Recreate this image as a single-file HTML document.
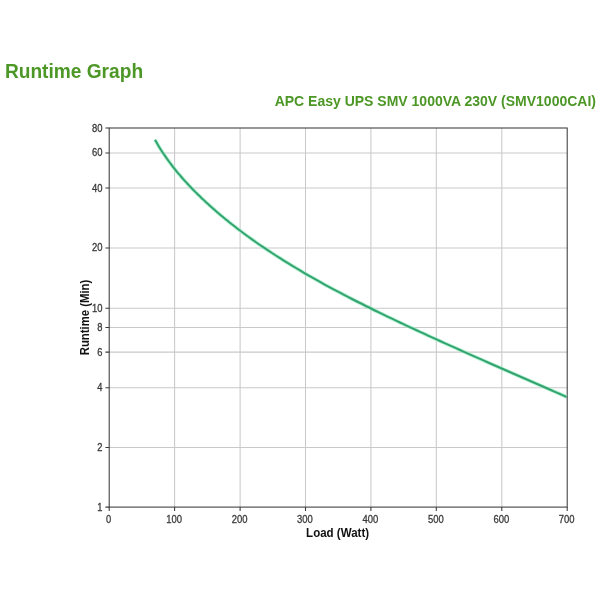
<!DOCTYPE html>
<html><head><meta charset="utf-8">
<style>
html,body{margin:0;padding:0;background:#fff;}
body{width:600px;height:600px;overflow:hidden;position:relative;font-family:"Liberation Sans",sans-serif;}
svg{position:absolute;left:0;top:0;filter:blur(0.5px);}
text{font-family:"Liberation Sans",sans-serif;}
.t{font-size:11px;fill:#383838;stroke:#383838;stroke-width:0.3;}
.g{stroke:#c9c9c9;stroke-width:1.05;fill:none;}
.a{stroke:#3a3a3a;stroke-width:1.05;fill:none;}
</style></head><body>
<svg width="600" height="600" viewBox="0 0 600 600">
<text id="title" x="4.9" y="77.9" font-size="19.6" font-weight="bold" fill="#4c9726" textLength="138.2" lengthAdjust="spacingAndGlyphs">Runtime Graph</text>
<text id="sub" x="596" y="105.8" font-size="14" font-weight="bold" fill="#4c9726" text-anchor="end">APC Easy UPS SMV 1000VA 230V (SMV1000CAI)</text>
<g class="g">
<line x1="174.6" y1="128.0" x2="174.6" y2="507.05"/>
<line x1="240.1" y1="128.0" x2="240.1" y2="507.05"/>
<line x1="305.5" y1="128.0" x2="305.5" y2="507.05"/>
<line x1="370.9" y1="128.0" x2="370.9" y2="507.05"/>
<line x1="436.3" y1="128.0" x2="436.3" y2="507.05"/>
<line x1="501.8" y1="128.0" x2="501.8" y2="507.05"/>
<line x1="109.2" y1="152.9" x2="567.2" y2="152.9"/>
<line x1="109.2" y1="188.0" x2="567.2" y2="188.0"/>
<line x1="109.2" y1="247.9" x2="567.2" y2="247.9"/>
<line x1="109.2" y1="308.2" x2="567.2" y2="308.2"/>
<line x1="109.2" y1="327.5" x2="567.2" y2="327.5"/>
<line x1="109.2" y1="352.1" x2="567.2" y2="352.1"/>
<line x1="109.2" y1="387.8" x2="567.2" y2="387.8"/>
<line x1="109.2" y1="447.4" x2="567.2" y2="447.4"/>
</g>
<rect class="a" x="109.2" y="128.0" width="458.0" height="379.1"/>
<path class="a" d="M105.4 128.0H109.2M105.4 152.9H109.2M105.4 188.0H109.2M105.4 247.9H109.2M105.4 308.2H109.2M105.4 327.5H109.2M105.4 352.1H109.2M105.4 387.8H109.2M105.4 447.4H109.2M105.4 507.1H109.2M109.2 507.05V510.9M174.6 507.05V510.9M240.1 507.05V510.9M305.5 507.05V510.9M370.9 507.05V510.9M436.3 507.05V510.9M501.8 507.05V510.9M567.2 507.05V510.9"/>
<g class="t" text-anchor="end">
<text x="102.4" y="131.5" textLength="10.5" lengthAdjust="spacingAndGlyphs">80</text>
<text x="102.4" y="156.4" textLength="10.5" lengthAdjust="spacingAndGlyphs">60</text>
<text x="102.4" y="191.5" textLength="10.5" lengthAdjust="spacingAndGlyphs">40</text>
<text x="102.4" y="251.4" textLength="10.5" lengthAdjust="spacingAndGlyphs">20</text>
<text x="102.4" y="311.7" textLength="10.5" lengthAdjust="spacingAndGlyphs">10</text>
<text x="102.4" y="331.0" textLength="5.2" lengthAdjust="spacingAndGlyphs">8</text>
<text x="102.4" y="355.6" textLength="5.2" lengthAdjust="spacingAndGlyphs">6</text>
<text x="102.4" y="391.3" textLength="5.2" lengthAdjust="spacingAndGlyphs">4</text>
<text x="102.4" y="450.9" textLength="5.2" lengthAdjust="spacingAndGlyphs">2</text>
<text x="102.4" y="510.6" textLength="5.2" lengthAdjust="spacingAndGlyphs">1</text>
</g><g class="t" text-anchor="middle">
<text x="108.7" y="522.7" textLength="5.2" lengthAdjust="spacingAndGlyphs">0</text>
<text x="174.1" y="522.7" textLength="15.8" lengthAdjust="spacingAndGlyphs">100</text>
<text x="239.6" y="522.7" textLength="15.8" lengthAdjust="spacingAndGlyphs">200</text>
<text x="305.0" y="522.7" textLength="15.8" lengthAdjust="spacingAndGlyphs">300</text>
<text x="370.4" y="522.7" textLength="15.8" lengthAdjust="spacingAndGlyphs">400</text>
<text x="435.8" y="522.7" textLength="15.8" lengthAdjust="spacingAndGlyphs">500</text>
<text x="501.3" y="522.7" textLength="15.8" lengthAdjust="spacingAndGlyphs">600</text>
<text x="566.7" y="522.7" textLength="15.8" lengthAdjust="spacingAndGlyphs">700</text>
</g>
<text id="xl" x="337.6" y="537.3" font-size="12" font-weight="bold" fill="#111" text-anchor="middle" textLength="63" lengthAdjust="spacingAndGlyphs">Load (Watt)</text>
<text id="yl" transform="translate(89,317.5) rotate(-90)" font-size="12" font-weight="bold" fill="#111" text-anchor="middle" textLength="75.5" lengthAdjust="spacingAndGlyphs">Runtime (Min)</text>
<path fill="none" stroke="#9deec6" stroke-opacity="0.7" stroke-width="3.8" d="M155.0 139.8C155.7 141.0 157.7 144.5 159.0 146.7C160.3 148.9 161.7 151.0 163.0 153.0C164.3 155.0 165.7 156.9 167.0 158.8C168.3 160.7 169.7 162.4 171.0 164.2C172.3 166.0 173.7 167.7 175.0 169.4C176.3 171.1 177.7 172.6 179.0 174.2C180.3 175.8 181.7 177.3 183.0 178.8C184.3 180.3 185.7 181.8 187.0 183.2C188.3 184.6 189.7 186.1 191.0 187.5C192.3 188.9 193.7 190.3 195.0 191.6C196.3 192.9 197.7 194.2 199.0 195.5C200.3 196.8 201.7 198.1 203.0 199.4C204.3 200.7 205.7 201.9 207.0 203.1C208.3 204.3 209.7 205.5 211.0 206.7C212.3 207.9 213.7 209.1 215.0 210.3C216.3 211.5 217.7 212.6 219.0 213.7C220.3 214.8 221.7 216.0 223.0 217.1C224.3 218.2 225.7 219.2 227.0 220.3C228.3 221.4 229.7 222.5 231.0 223.6C232.3 224.7 233.7 225.7 235.0 226.7C236.3 227.7 238.2 229.2 239.0 229.8C239.8 230.4 238.5 229.4 240.0 230.5C241.5 231.6 245.3 234.6 248.0 236.5C250.7 238.4 253.3 240.3 256.0 242.2C258.7 244.1 261.3 245.9 264.0 247.7C266.7 249.5 269.3 251.2 272.0 253.0C274.7 254.8 277.3 256.5 280.0 258.2C282.7 259.9 285.3 261.6 288.0 263.2C290.7 264.8 293.3 266.4 296.0 268.0C298.7 269.6 301.3 271.2 304.0 272.8C306.7 274.4 309.3 275.9 312.0 277.4C314.7 278.9 317.3 280.4 320.0 281.9C322.7 283.4 325.3 284.9 328.0 286.3C330.7 287.8 333.3 289.2 336.0 290.6C338.7 292.0 341.3 293.4 344.0 294.8C346.7 296.2 349.3 297.6 352.0 299.0C354.7 300.4 357.3 301.7 360.0 303.0C362.7 304.3 365.3 305.7 368.0 307.0C370.7 308.3 373.3 309.7 376.0 311.0C378.7 312.3 381.3 313.6 384.0 314.9C386.7 316.2 389.3 317.4 392.0 318.7C394.7 320.0 397.3 321.2 400.0 322.5C402.7 323.8 405.3 325.1 408.0 326.3C410.7 327.6 413.3 328.8 416.0 330.0C418.7 331.2 421.3 332.5 424.0 333.7C426.7 334.9 429.3 336.2 432.0 337.4C434.7 338.6 437.3 339.8 440.0 341.0C442.7 342.2 445.3 343.5 448.0 344.7C450.7 345.9 453.3 347.0 456.0 348.2C458.7 349.4 461.3 350.6 464.0 351.8C466.7 353.0 469.3 354.2 472.0 355.4C474.7 356.6 477.3 357.7 480.0 358.9C482.7 360.1 485.3 361.3 488.0 362.5C490.7 363.7 493.3 364.8 496.0 366.0C498.7 367.2 501.3 368.3 504.0 369.5C506.7 370.7 509.3 371.8 512.0 373.0C514.7 374.2 517.3 375.3 520.0 376.5C522.7 377.7 525.3 378.8 528.0 380.0C530.7 381.2 533.3 382.3 536.0 383.5C538.7 384.7 541.3 385.8 544.0 387.0C546.7 388.2 549.3 389.3 552.0 390.5C554.7 391.7 557.5 392.9 560.0 394.0C562.5 395.1 565.6 396.5 566.7 397.0"/>
<path id="curve" fill="none" stroke="#34a46f" stroke-width="2.0" stroke-linejoin="round" stroke-linecap="butt" d="M155.0 139.8C155.7 141.0 157.7 144.5 159.0 146.7C160.3 148.9 161.7 151.0 163.0 153.0C164.3 155.0 165.7 156.9 167.0 158.8C168.3 160.7 169.7 162.4 171.0 164.2C172.3 166.0 173.7 167.7 175.0 169.4C176.3 171.1 177.7 172.6 179.0 174.2C180.3 175.8 181.7 177.3 183.0 178.8C184.3 180.3 185.7 181.8 187.0 183.2C188.3 184.6 189.7 186.1 191.0 187.5C192.3 188.9 193.7 190.3 195.0 191.6C196.3 192.9 197.7 194.2 199.0 195.5C200.3 196.8 201.7 198.1 203.0 199.4C204.3 200.7 205.7 201.9 207.0 203.1C208.3 204.3 209.7 205.5 211.0 206.7C212.3 207.9 213.7 209.1 215.0 210.3C216.3 211.5 217.7 212.6 219.0 213.7C220.3 214.8 221.7 216.0 223.0 217.1C224.3 218.2 225.7 219.2 227.0 220.3C228.3 221.4 229.7 222.5 231.0 223.6C232.3 224.7 233.7 225.7 235.0 226.7C236.3 227.7 238.2 229.2 239.0 229.8C239.8 230.4 238.5 229.4 240.0 230.5C241.5 231.6 245.3 234.6 248.0 236.5C250.7 238.4 253.3 240.3 256.0 242.2C258.7 244.1 261.3 245.9 264.0 247.7C266.7 249.5 269.3 251.2 272.0 253.0C274.7 254.8 277.3 256.5 280.0 258.2C282.7 259.9 285.3 261.6 288.0 263.2C290.7 264.8 293.3 266.4 296.0 268.0C298.7 269.6 301.3 271.2 304.0 272.8C306.7 274.4 309.3 275.9 312.0 277.4C314.7 278.9 317.3 280.4 320.0 281.9C322.7 283.4 325.3 284.9 328.0 286.3C330.7 287.8 333.3 289.2 336.0 290.6C338.7 292.0 341.3 293.4 344.0 294.8C346.7 296.2 349.3 297.6 352.0 299.0C354.7 300.4 357.3 301.7 360.0 303.0C362.7 304.3 365.3 305.7 368.0 307.0C370.7 308.3 373.3 309.7 376.0 311.0C378.7 312.3 381.3 313.6 384.0 314.9C386.7 316.2 389.3 317.4 392.0 318.7C394.7 320.0 397.3 321.2 400.0 322.5C402.7 323.8 405.3 325.1 408.0 326.3C410.7 327.6 413.3 328.8 416.0 330.0C418.7 331.2 421.3 332.5 424.0 333.7C426.7 334.9 429.3 336.2 432.0 337.4C434.7 338.6 437.3 339.8 440.0 341.0C442.7 342.2 445.3 343.5 448.0 344.7C450.7 345.9 453.3 347.0 456.0 348.2C458.7 349.4 461.3 350.6 464.0 351.8C466.7 353.0 469.3 354.2 472.0 355.4C474.7 356.6 477.3 357.7 480.0 358.9C482.7 360.1 485.3 361.3 488.0 362.5C490.7 363.7 493.3 364.8 496.0 366.0C498.7 367.2 501.3 368.3 504.0 369.5C506.7 370.7 509.3 371.8 512.0 373.0C514.7 374.2 517.3 375.3 520.0 376.5C522.7 377.7 525.3 378.8 528.0 380.0C530.7 381.2 533.3 382.3 536.0 383.5C538.7 384.7 541.3 385.8 544.0 387.0C546.7 388.2 549.3 389.3 552.0 390.5C554.7 391.7 557.5 392.9 560.0 394.0C562.5 395.1 565.6 396.5 566.7 397.0"/>
</svg>
</body></html>
